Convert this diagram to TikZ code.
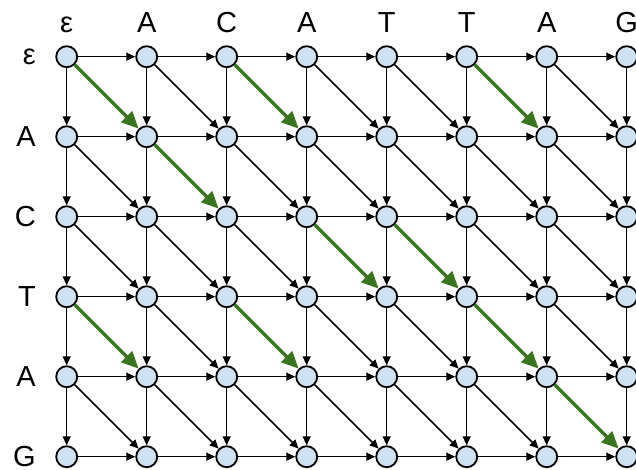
\documentclass[tikz,border=0pt]{standalone}
\usepackage{fontspec}
\setmainfont{Liberation Sans}
\usetikzlibrary{arrows.meta}
\definecolor{cnode}{HTML}{CFE2F3}
\definecolor{cmatch}{HTML}{38761D}

\begin{document}
\begin{tikzpicture}[
  x=1pt, y=-1pt,
  cell/.style={
    circle, draw=black, fill=cnode, line width=1.8pt,
    minimum size=21pt, inner sep=0pt
  },
  edge/.style={
    -{Triangle[length=9pt, width=8pt]}, draw=black, line width=1.5pt
  },
  match/.style={
    -{Triangle[length=17pt, width=15pt]}, draw=cmatch, line width=3.4pt
  },
  letter/.style={font=\fontsize{29}{33}\selectfont, inner sep=0pt}
]
\useasboundingbox (0,0) rectangle (636,470);

% ============================================================
% Grid of cells: rows = epsilon A C T A G, columns = epsilon A C A T T A G
% ============================================================
\foreach \r in {0,...,5} {
  \foreach \c in {0,...,7} {
    \node[cell] (n-\r-\c) at (66.7+80*\c, 56.7+80*\r) {};
  }
}

% Column letters on top
\foreach \c/\t in {0/ε,1/A,2/C,3/A,4/T,5/T,6/A,7/G} {
  \node[letter, anchor=base] (col-\c) at (66.7+80*\c, 33) {\t};
}

% Row letters on the left
\foreach \r/\t in {0/ε,1/A,2/C,3/T,4/A,5/G} {
  \node[letter, anchor=east] (row-\r) at (36, 56.7+80*\r) {\t};
}

% ============================================================
% Horizontal and vertical steps
% ============================================================
\foreach \r in {0,...,5} {
  \foreach \c [evaluate=\c as \pc using int(\c-1)] in {1,...,7} {
    \draw[edge] (n-\r-\pc) -- (n-\r-\c);
  }
}
\foreach \c in {0,...,7} {
  \foreach \r [evaluate=\r as \pr using int(\r-1)] in {1,...,5} {
    \draw[edge] (n-\pr-\c) -- (n-\r-\c);
  }
}

% ============================================================
% Diagonal steps (green where the two letters match)
% ============================================================
\foreach \r/\rl [evaluate=\r as \pr using int(\r-1)] in {1/A,2/C,3/T,4/A,5/G} {
  \foreach \c/\cl [evaluate=\c as \pc using int(\c-1)] in {1/A,2/C,3/A,4/T,5/T,6/A,7/G} {
    \ifx\rl\cl
      \draw[match] (n-\pr-\pc) -- (n-\r-\c);
    \else
      \draw[edge] (n-\pr-\pc) -- (n-\r-\c);
    \fi
  }
}

\end{tikzpicture}
\end{document}
